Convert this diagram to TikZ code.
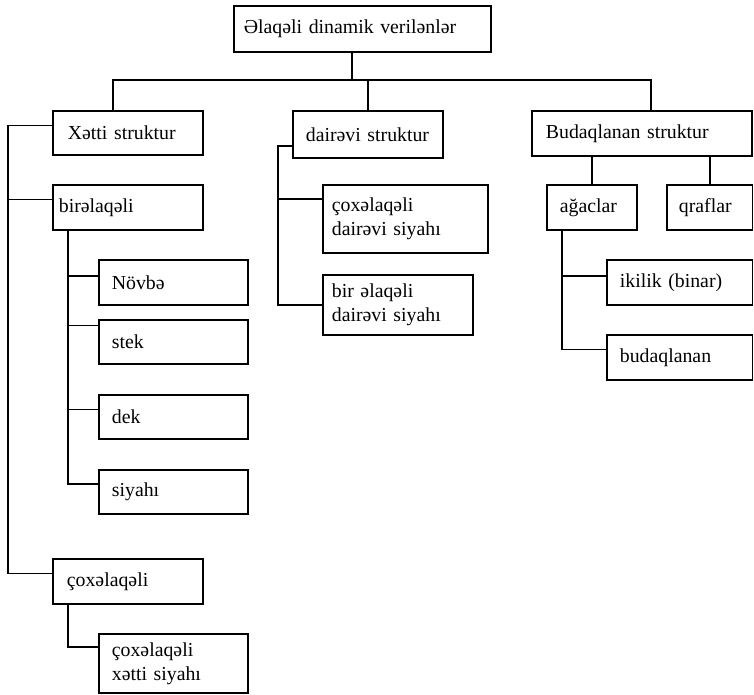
\documentclass[tikz,border=0pt]{standalone}
\usepackage{fontspec}
\setmainfont{Liberation Serif}
\usetikzlibrary{calc}
\begin{document}
\begin{tikzpicture}[x=1pt,y=-1pt,
  line width=1.8pt,
  box/.style={draw, anchor=north west, align=left, inner ysep=0pt,
    font=\fontsize{19.8}{24}\selectfont},
  bx/.style n args={4}{minimum width=#1pt, minimum height=#2pt,
    inner xsep=#3pt, text width=#4pt}]
\useasboundingbox (0,0) rectangle (754,694);

% boxes
\node[box, bx={257}{46}{10}{237}] (top) at (233,5) {Əlaqəli dinamik verilənlər};

\node[box, bx={150}{44}{15}{120}] (xetti) at (52,110) {Xətti struktur};
\node[box, bx={150}{47}{13}{124}] (dairevi) at (292,110) {dairəvi struktur};
\node[box, bx={220}{45}{14}{192}] (budaq) at (531,110) {Budaqlanan struktur};

\node[box, bx={150}{45}{6}{138}] (bir) at (52,184) {birəlaqəli};
\node[box, bx={149}{45}{13}{123}] (nov) at (98,259) {Növbə};
\node[box, bx={149}{44}{13}{123}] (stek) at (98,319) {stek};
\node[box, bx={149}{44}{13}{123}] (dek) at (98,394) {dek};
\node[box, bx={149}{44}{13}{123}] (siy) at (98,469) {siyahı};
\node[box, bx={150}{45}{14}{122}] (coxl) at (52,558) {çoxəlaqəli};
\node[box, bx={149}{59}{13}{123}] (coxx) at (98,633) {çoxəlaqəli\\xətti siyahı};

\node[box, bx={165}{68}{9}{147}] (cdai) at (322,184) {çoxəlaqəli\\dairəvi siyahı};
\node[box, bx={150}{60}{9}{132}] (bdai) at (322,274) {bir əlaqəli\\dairəvi siyahı};

\node[box, bx={90}{45}{13}{64}] (agac) at (546,184) {ağaclar};
\node[box, bx={85.5}{45}{12}{61.5}] (qraf) at (666,184) {qraflar};
\node[box, bx={145.5}{45}{13}{119.5}] (ikil) at (606,259) {ikilik (binar)};
\node[box, bx={145.5}{45}{13}{119.5}] (budn) at (606,334) {budaqlanan};

% junction points
\coordinate (root) at (352,80);
\coordinate (busL) at (113,80);
\coordinate (busR) at (651,80);
\coordinate (trunkL) at (8,0);
\coordinate (trunkD) at (278,0);

\coordinate (xw) at ($(xetti.north west)!0.34!(xetti.south west)$);
\coordinate (bw) at ($(bir.north west)!0.33!(bir.south west)$);
\coordinate (cw) at ($(coxl.north west)!0.33!(coxl.south west)$);
\coordinate (nw) at ($(nov.north west)!0.36!(nov.south west)$);
\coordinate (sw) at ($(stek.north west)!0.14!(stek.south west)$);
\coordinate (dw) at ($(dek.north west)!0.34!(dek.south west)$);
\coordinate (yw) at ($(siy.north west)!0.32!(siy.south west)$);
\coordinate (xxw) at ($(coxx.north west)!0.23!(coxx.south west)$);
\coordinate (dvw) at ($(dairevi.north west)!0.74!(dairevi.south west)$);
\coordinate (cdw) at ($(cdai.north west)!0.22!(cdai.south west)$);
\coordinate (bdw) at ($(bdai.north west)!0.5!(bdai.south west)$);
\coordinate (ikw) at ($(ikil.north west)!0.36!(ikil.south west)$);
\coordinate (bnw) at ($(budn.north west)!0.33!(budn.south west)$);

% top level bus
\draw (top.south -| root) -- (root);
\draw (busL |- xetti.north) -- (busL) -- (busR) -- (busR |- budaq.north);
\draw (dairevi.north) -- (dairevi.north |- busL);

% linear structures
\draw (xw) -| (trunkL |- cw) -- (cw);
\draw (bw) -- (trunkL |- bw);
\draw ($(bir.south west)+(16,0)$) coordinate (tb) |- (yw);
\draw (nw) -- (tb |- nw);
\draw (sw) -- (tb |- sw);
\draw (dw) -- (tb |- dw);
\draw ($(coxl.south west)+(16,0)$) |- (xxw);

% circular structures
\draw (dvw) -| (trunkD |- bdw) -- (bdw);
\draw (cdw) -- (trunkD |- cdw);

% branching structures
\draw (agac.north) -- (agac.north |- budaq.south);
\draw (qraf.north) -- (qraf.north |- budaq.south);
\draw ($(agac.south west)+(16,0)$) coordinate (ta) |- (bnw);
\draw (ikw) -- (ta |- ikw);
\end{tikzpicture}
\end{document}
